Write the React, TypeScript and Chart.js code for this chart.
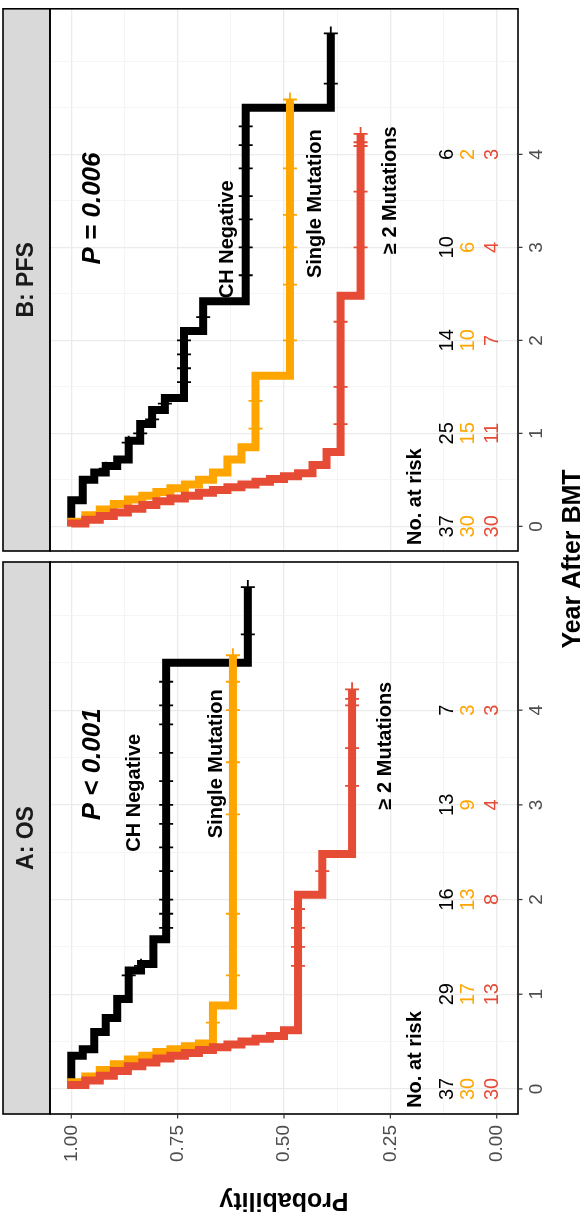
import React, { useEffect, useRef } from "react";
import { Chart, registerables } from "chart.js";

Chart.register(...registerables);

const FONT = '"Liberation Sans", Arial, Helvetica, sans-serif';
const W = 587;
const H = 1226;

// ---------- axes ----------
const timeTicks = [0, 1, 2, 3, 4];
const timeMinor = [0.5, 1.5, 2.5, 3.5, 4.5, 5];
const probTicks = [0, 0.25, 0.5, 0.75, 1];
const probTickLabels = ["0.00", "0.25", "0.50", "0.75", "1.00"];
const probMinor = [0.125, 0.375, 0.625, 0.875];

const groupNames = ["CH Negative", "Single Mutation", "\u2265 2 Mutations"];
const groupColors = ["#000000", "#FFA500", "#E64B35"];

// ---------- B: PFS ----------
const pfsNegTime = [0, 0.28, 0.5, 0.58, 0.65, 0.72, 0.92, 1.1, 1.25, 1.38, 2.1, 2.42, 4.5, 5.3];
const pfsNegSurv = [1, 0.973, 0.946, 0.919, 0.892, 0.865, 0.838, 0.81, 0.78, 0.735, 0.69, 0.59, 0.39, 0.39];
const pfsNegCensor = [0.62, 0.9, 1.0, 1.15, 1.32, 1.55, 1.7, 1.85, 2.0, 2.25, 2.7, 3.0, 3.3, 3.55, 3.85, 4.1, 4.3, 4.76, 5.3];

const pfsSingleTime = [0, 0.05, 0.12, 0.18, 0.24, 0.29, 0.33, 0.37, 0.41, 0.45, 0.5, 0.58, 0.72, 0.85, 1.62, 4.59];
const pfsSingleSurv = [1, 0.967, 0.933, 0.9, 0.867, 0.833, 0.8, 0.767, 0.733, 0.7, 0.667, 0.633, 0.6, 0.567, 0.486, 0.486];
const pfsSingleCensor = [1.05, 1.35, 2.0, 2.6, 3.0, 3.35, 3.85, 4.59];

const pfsMultiTime = [0, 0.03, 0.07, 0.11, 0.15, 0.19, 0.23, 0.27, 0.3, 0.33, 0.36, 0.39, 0.42, 0.45, 0.48, 0.51, 0.54, 0.57, 0.66, 0.8, 2.48, 4.22];
const pfsMultiSurv = [1, 0.967, 0.933, 0.9, 0.867, 0.833, 0.8, 0.767, 0.733, 0.7, 0.667, 0.633, 0.6, 0.567, 0.533, 0.5, 0.467, 0.433, 0.4, 0.367, 0.32, 0.32];
const pfsMultiCensor = [1.1, 1.5, 2.2, 3.0, 3.6, 4.09, 4.13, 4.22];

const pfsRiskNeg = [37, 25, 14, 10, 6];
const pfsRiskSingle = [30, 15, 10, 6, 2];
const pfsRiskMulti = [30, 11, 7, 4, 3];

const pfsPValue = "P = 0.006";
const pfsLabelX = [0.632, 0.427, 0.249];
const pfsLabelT = [3.72, 4.27, 4.3];

// ---------- A: OS ----------
const osNegTime = [0, 0.35, 0.42, 0.6, 0.75, 0.95, 1.25, 1.32, 1.58, 4.5, 5.3];
const osNegSurv = [1, 0.973, 0.946, 0.919, 0.892, 0.865, 0.836, 0.807, 0.777, 0.585, 0.585];
const osNegCensor = [1.2, 1.3, 1.7, 1.85, 2.0, 2.3, 2.55, 2.8, 3.0, 3.25, 3.55, 3.85, 4.05, 4.3, 4.8, 5.3];

const osSingleTime = [0, 0.07, 0.13, 0.2, 0.26, 0.31, 0.35, 0.39, 0.42, 0.45, 0.48, 0.88, 4.58];
const osSingleSurv = [1, 0.967, 0.933, 0.9, 0.867, 0.833, 0.8, 0.767, 0.733, 0.7, 0.667, 0.62, 0.62];
const osSingleCensor = [0.7, 1.2, 1.85, 2.9, 3.45, 4.0, 4.3, 4.58];

const osMultiTime = [0, 0.04, 0.09, 0.14, 0.19, 0.24, 0.28, 0.32, 0.35, 0.38, 0.41, 0.44, 0.47, 0.5, 0.53, 0.56, 0.62, 2.05, 2.48, 4.22];
const osMultiSurv = [1, 0.967, 0.933, 0.9, 0.867, 0.833, 0.8, 0.767, 0.733, 0.7, 0.667, 0.633, 0.6, 0.567, 0.533, 0.5, 0.467, 0.41, 0.34, 0.34];
const osMultiCensor = [1.3, 1.5, 1.7, 1.9, 2.3, 3.2, 3.6, 4.05, 4.12, 4.22];

const osRiskNeg = [37, 29, 16, 13, 7];
const osRiskSingle = [30, 17, 13, 9, 3];
const osRiskMulti = [30, 13, 8, 4, 3];

const osPValue = "P < 0.001";
const osLabelX = [0.851, 0.658, 0.262];
const osLabelT = [3.75, 4.22, 4.3];

// text anchor values (data units)
const pValueX = 0.95;
const pValueT = 4.02;
const riskTitleX = 0.19;
const riskTitleT = -0.2;
const riskColX = [0.116, 0.066, 0.009];

type Curve = { time: number[]; surv: number[]; censor: number[] };
type Panel = {
  key: string;
  strip: string;
  top: number;
  bottom: number;
  curves: Curve[];
  risk: number[][];
  pValue: string;
  labelX: number[];
  labelT: number[];
  showProbAxis: boolean;
};

const panels: Panel[] = [
  {
    key: "B",
    strip: "B: PFS",
    top: 2,
    bottom: 551,
    curves: [
      { time: pfsNegTime, surv: pfsNegSurv, censor: pfsNegCensor },
      { time: pfsSingleTime, surv: pfsSingleSurv, censor: pfsSingleCensor },
      { time: pfsMultiTime, surv: pfsMultiSurv, censor: pfsMultiCensor },
    ],
    risk: [pfsRiskNeg, pfsRiskSingle, pfsRiskMulti],
    pValue: pfsPValue,
    labelX: pfsLabelX,
    labelT: pfsLabelT,
    showProbAxis: false,
  },
  {
    key: "A",
    strip: "A: OS",
    top: 562,
    bottom: 1114,
    curves: [
      { time: osNegTime, surv: osNegSurv, censor: osNegCensor },
      { time: osSingleTime, surv: osSingleSurv, censor: osSingleCensor },
      { time: osMultiTime, surv: osMultiSurv, censor: osMultiCensor },
    ],
    risk: [osRiskNeg, osRiskSingle, osRiskMulti],
    pValue: osPValue,
    labelX: osLabelX,
    labelT: osLabelT,
    showProbAxis: true,
  },
];

function survAt(times: number[], surv: number[], t: number) {
  let s = surv[0];
  for (let i = 0; i < times.length; i++) if (times[i] <= t + 1e-9) s = surv[i];
  return s;
}

function vText(ctx: CanvasRenderingContext2D, text: string, x: number, y: number, font: string, color: string, align: CanvasTextAlign, angle = -Math.PI / 2) {
  ctx.save();
  ctx.translate(x, y);
  ctx.rotate(angle);
  ctx.font = font;
  ctx.fillStyle = color;
  ctx.textAlign = align;
  ctx.textBaseline = "middle";
  ctx.fillText(text, 0, 0);
  ctx.restore();
}

function makeDeco(panel: Panel) {
  return {
    id: "deco" + panel.key,
    afterDraw(chart: any) {
      const ctx: CanvasRenderingContext2D = chart.ctx;
      const { left, right, top, bottom } = chart.chartArea;
      const xs = chart.scales.x;
      const ys = chart.scales.y;
      ctx.save();
      // strip
      ctx.fillStyle = "#D9D9D9";
      ctx.fillRect(3, top, left - 3, bottom - top);
      ctx.strokeStyle = "#000";
      ctx.lineWidth = 1.6;
      ctx.strokeRect(3, top, left - 3, bottom - top);
      ctx.strokeRect(left, top, right - left, bottom - top);
      vText(ctx, panel.strip, (3 + left) / 2, (top + bottom) / 2, `bold 23px ${FONT}`, "#1A1A1A", "center");

      // time ticks
      ctx.strokeStyle = "#333333";
      ctx.lineWidth = 1.2;
      timeTicks.forEach((t) => {
        const y = ys.getPixelForValue(t);
        ctx.beginPath();
        ctx.moveTo(right, y);
        ctx.lineTo(right + 4.5, y);
        ctx.stroke();
        vText(ctx, String(t), right + 19, y, `19px ${FONT}`, "#4D4D4D", "center");
      });

      // probability axis
      if (panel.showProbAxis) {
        probTicks.forEach((v, i) => {
          const x = xs.getPixelForValue(v);
          ctx.beginPath();
          ctx.moveTo(x, bottom);
          ctx.lineTo(x, bottom + 4.5);
          ctx.stroke();
          vText(ctx, probTickLabels[i], x, bottom + 11, `19px ${FONT}`, "#4D4D4D", "right");
        });
        vText(ctx, "Probability", (left + right) / 2, bottom + 86, `bold 25px ${FONT}`, "#000", "center", Math.PI);
        vText(ctx, "Year After BMT", right + 55, 559, `bold 25px ${FONT}`, "#000", "center");
      }

      // p value
      vText(ctx, panel.pValue, xs.getPixelForValue(pValueX), ys.getPixelForValue(pValueT), `italic bold 26px ${FONT}`, "#000", "right");
      // group labels
      groupNames.forEach((g, i) => {
        vText(ctx, g, xs.getPixelForValue(panel.labelX[i]), ys.getPixelForValue(panel.labelT[i]), `bold 20px ${FONT}`, "#000", "right");
      });
      // at-risk table
      vText(ctx, "No. at risk", xs.getPixelForValue(riskTitleX), ys.getPixelForValue(riskTitleT), `bold 20px ${FONT}`, "#000", "left");
      panel.risk.forEach((row, g) => {
        row.forEach((n, k) => {
          vText(ctx, String(n), xs.getPixelForValue(riskColX[g]), ys.getPixelForValue(timeTicks[k]), `20px ${FONT}`, groupColors[g], "center");
        });
      });
      ctx.restore();
    },
  };
}

function buildChart(canvas: HTMLCanvasElement, panel: Panel) {
  const datasets: any[] = [];
  panel.curves.forEach((c, i) => {
    datasets.push({
      type: "line",
      label: groupNames[i],
      data: c.time.map((t, k) => ({ x: c.surv[k], y: t })),
      borderColor: groupColors[i],
      borderWidth: 8,
      stepped: "after",
      pointRadius: 0,
      fill: false,
      tension: 0,
      borderCapStyle: "butt",
      borderJoinStyle: "miter",
      order: 30 - i * 10,
    });
  });
  panel.curves.forEach((c, i) => {
    datasets.push({
      type: "line",
      label: groupNames[i] + " censor",
      data: c.censor.map((t) => ({ x: survAt(c.time, c.surv, t), y: t })),
      showLine: false,
      pointStyle: "cross",
      pointRadius: 7,
      pointBorderWidth: 1.8,
      pointBorderColor: groupColors[i],
      pointBackgroundColor: groupColors[i],
      order: 3 - i,
    });
  });

  const gridColor = (minor: number[]) => (ctx: any) =>
    minor.includes(ctx.tick && ctx.tick.value) ? "#F3F3F3" : "#EBEBEB";
  const gridWidth = (minor: number[]) => (ctx: any) =>
    minor.includes(ctx.tick && ctx.tick.value) ? 0.8 : 1.3;

  return new Chart(canvas, {
    type: "line",
    data: { datasets },
    options: {
      animation: false,
      responsive: false,
      devicePixelRatio: 1,
      events: [],
      layout: { padding: { left: 50, right: W - 518, top: panel.top, bottom: H - panel.bottom } },
      plugins: { legend: { display: false }, tooltip: { enabled: false } },
      scales: {
        x: {
          type: "linear",
          reverse: true,
          min: -0.05,
          max: 1.05,
          ticks: { display: false },
          grid: { drawTicks: false, color: gridColor(probMinor), lineWidth: gridWidth(probMinor) },
          border: { display: false },
          afterBuildTicks: (s: any) => {
            s.ticks = [...probTicks, ...probMinor].map((v) => ({ value: v }));
          },
        },
        y: {
          type: "linear",
          min: -0.265,
          max: 5.565,
          ticks: { display: false },
          grid: { drawTicks: false, color: gridColor(timeMinor), lineWidth: gridWidth(timeMinor) },
          border: { display: false },
          afterBuildTicks: (s: any) => {
            s.ticks = [...timeTicks, ...timeMinor].map((v) => ({ value: v }));
          },
        },
      },
    } as any,
    plugins: [makeDeco(panel)],
  });
}

export default function App() {
  const refB = useRef<HTMLCanvasElement>(null);
  const refA = useRef<HTMLCanvasElement>(null);
  useEffect(() => {
    const charts: Chart[] = [];
    if (refB.current) charts.push(buildChart(refB.current, panels[0]));
    if (refA.current) charts.push(buildChart(refA.current, panels[1]));
    return () => charts.forEach((c) => c.destroy());
  }, []);
  return (
    <div style={{ position: "absolute", left: 0, top: 0, width: W, height: H, background: "#fff", overflow: "hidden" }}>
      <canvas ref={refB} width={W} height={H} style={{ position: "absolute", left: 0, top: 0 }} />
      <canvas ref={refA} width={W} height={H} style={{ position: "absolute", left: 0, top: 0 }} />
    </div>
  );
}
